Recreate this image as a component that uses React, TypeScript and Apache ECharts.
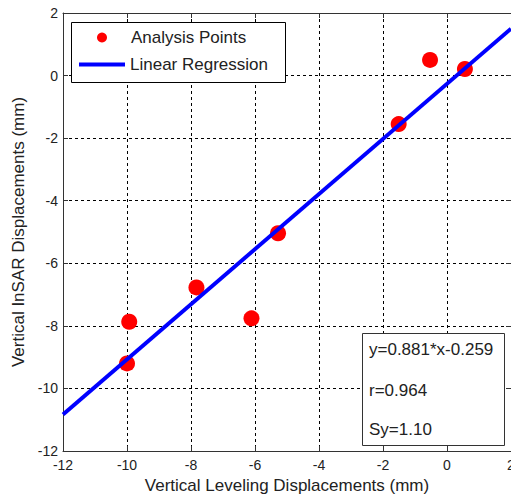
import React, { useEffect, useRef } from "react";
import * as echarts from "echarts";

const analysisPoints: [number, number][] = [
  [-10.0, -9.2],
  [-9.93, -7.87],
  [-7.83, -6.77],
  [-6.11, -7.76],
  [-5.28, -5.04],
  [-1.51, -1.55],
  [-0.53, 0.5],
  [0.56, 0.21],
];
const regressionLine: [number, number][] = [
  [-12, -10.83],
  [2, 1.5],
];
const statsLines = ["y=0.881*x-0.259", "r=0.964", "Sy=1.10"];
const xTitle = "Vertical Leveling Displacements (mm)";
const yTitle = "Vertical InSAR Displacements (mm)";
const FONT = "'Liberation Sans', Arial, sans-serif";

export default function App() {
  const ref = useRef<HTMLDivElement>(null);
  useEffect(() => {
    if (!ref.current) return;
    const chart = echarts.init(ref.current, null, { renderer: "svg" });
    const tickLabel = { fontSize: 14, color: "#222", fontFamily: FONT };
    const axisLine = { show: true, onZero: false, lineStyle: { color: "#333", width: 1 } };
    const tick = { show: true, inside: true, length: 5, lineStyle: { color: "#333" } };
    const split = { show: true, lineStyle: { color: "#000", width: 1, type: [3, 3] as any } };
    const legendText = { fontSize: 17, lineHeight: 17, color: "#222", fontFamily: FONT };
    chart.setOption({
      animation: false,
      backgroundColor: "#fff",
      textStyle: { fontFamily: FONT },
      grid: { left: 63, top: 13, right: 0, bottom: 46, containLabel: false, outerBoundsMode: "none" },
      legend: [
        {
          left: 97,
          top: 29,
          padding: 0,
          itemWidth: 10,
          itemHeight: 10,
          textStyle: { ...legendText, padding: [0, 0, 0, 19] },
          data: [{ name: "Analysis Points", icon: "circle" }],
          z: 10,
        },
        {
          left: 79,
          top: 56,
          padding: 0,
          itemWidth: 46,
          itemHeight: 4,
          textStyle: legendText,
          data: [{ name: "Linear Regression", icon: "rect" }],
          z: 10,
        },
      ],
      xAxis: [
        {
          type: "value",
          min: -12,
          max: 2,
          interval: 2,
          name: xTitle,
          nameLocation: "middle",
          nameGap: 21,
          nameTextStyle: { fontSize: 17, color: "#222", fontFamily: FONT },
          axisLine,
          axisTick: tick,
          axisLabel: { ...tickLabel, margin: 7 },
          splitLine: split,
        },
        {
          type: "value",
          position: "top",
          min: -12,
          max: 2,
          interval: 2,
          axisLine,
          axisTick: tick,
          axisLabel: { show: false },
          splitLine: { show: false },
        },
      ],
      yAxis: [
        {
          type: "value",
          min: -12,
          max: 2,
          interval: 2,
          name: yTitle,
          nameLocation: "middle",
          nameGap: 35,
          nameTextStyle: { fontSize: 17, color: "#222", fontFamily: FONT },
          axisLine,
          axisTick: tick,
          axisLabel: { ...tickLabel, margin: 5 },
          splitLine: split,
        },
        {
          type: "value",
          position: "right",
          min: -12,
          max: 2,
          interval: 2,
          axisLine: { show: false, onZero: false },
          axisTick: tick,
          axisLabel: { show: false },
          splitLine: { show: false },
        },
      ],
      series: [
        {
          name: "Analysis Points",
          type: "scatter",
          data: analysisPoints,
          symbol: "circle",
          symbolSize: 16,
          itemStyle: { color: "#ff0000", opacity: 1 },
          z: 3,
        },
        {
          name: "Linear Regression",
          type: "line",
          data: regressionLine,
          symbol: "none",
          lineStyle: { color: "#0000ff", width: 4 },
          itemStyle: { color: "#0000ff" },
          z: 4,
        },
      ],
      graphic: [
        {
          type: "rect",
          left: 71,
          top: 22,
          z: 5,
          shape: { x: 0, y: 0, width: 214, height: 60 },
          style: { fill: "#fff", stroke: "#000", lineWidth: 1 },
        },
        {
          type: "rect",
          left: 362,
          top: 333,
          z: 5,
          shape: { x: 0, y: 0, width: 142, height: 112 },
          style: { fill: "#fff", stroke: "#333", lineWidth: 1 },
        },
        ...statsLines.map((t, i) => ({
          type: "text",
          left: 369,
          top: [341, 382, 421][i],
          z: 6,
          style: {
            text: t,
            fontSize: 17,
            fontFamily: FONT,
            fill: "#222",
          },
        })),
      ],
    });
    return () => chart.dispose();
  }, []);
  return (
    <div
      ref={ref}
      style={{ position: "absolute", left: 0, top: 0, width: 511, height: 497 }}
    />
  );
}
